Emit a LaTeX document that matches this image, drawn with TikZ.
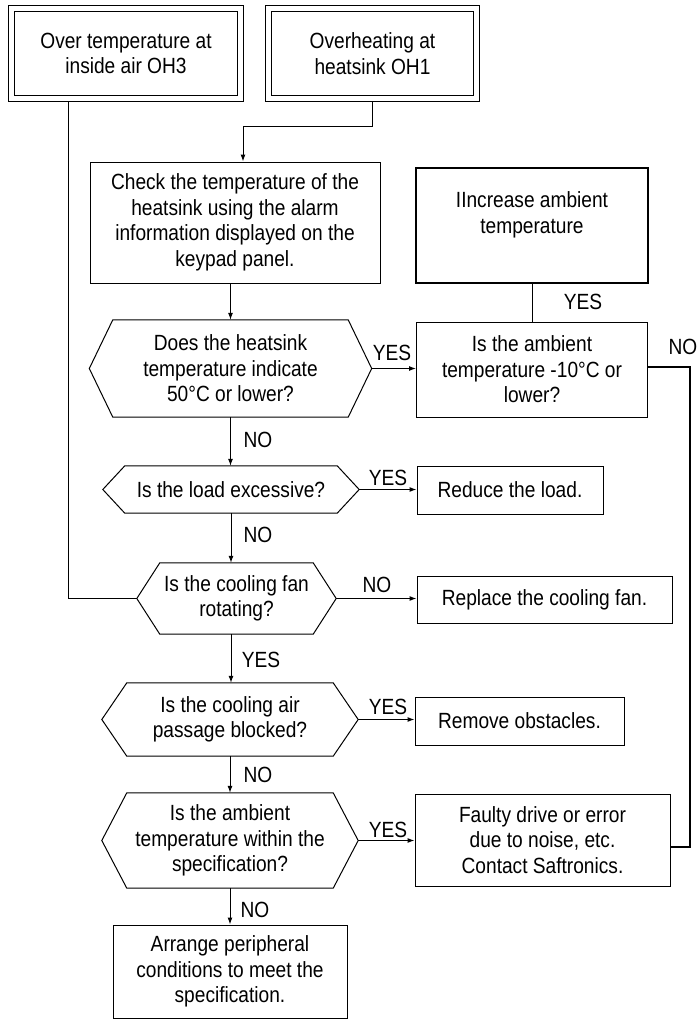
\documentclass[tikz,border=0pt]{standalone}
\usepackage{fontspec}
\setmainfont{Liberation Sans}[FakeStretch=0.87]
\usetikzlibrary{arrows.meta,calc}
\begin{document}
\begin{tikzpicture}[x=1pt,y=-1pt,
  every node/.style={font=\fontsize{22}{25.5}\selectfont},
  box/.style={draw, line width=1pt, align=center, inner sep=0pt},
  thickbox/.style={draw, line width=2pt, align=center, inner sep=0pt},
  dbl/.style={draw, line width=1pt, double, double distance=5pt, align=center, inner sep=0pt, outer sep=3.5pt},
  hexn/.style={align=center, inner sep=0pt},
  lab/.style={inner sep=0pt},
  conn/.style={line width=1pt},
  arr/.style={conn, -{Latex[length=7pt,width=5pt]}},
  heavy/.style={line width=2pt}
]
\useasboundingbox (0,0) rectangle (697,1021);

% top double boxes
\node[dbl, minimum width=229pt, minimum height=90pt] (oh3) at (126,53.5) {Over temperature at\\inside air OH3};
\node[dbl, minimum width=208pt, minimum height=90pt] (oh1) at (372.5,53.5) {Overheating at\\heatsink OH1};

% check box
\node[box, minimum width=290pt, minimum height=121pt] (chk) at (235,222.5) {Check the temperature of the\\heatsink using the alarm\\information displayed on the\\keypad panel.};

% hexagons
\node[hexn, minimum width=235pt, minimum height=97pt] (h1) at (230.5,368.5) {Does the heatsink\\temperature indicate\\50°C or lower?};
\coordinate (h1W) at ($(h1.west)+(-23.5,0)$);
\coordinate (h1E) at ($(h1.east)+(23.5,0)$);
\draw[conn] (h1.north west) -- (h1.north east) -- (h1E) -- (h1.south east) -- (h1.south west) -- (h1W) -- cycle;

\node[hexn, minimum width=212pt, minimum height=47pt] (h2) at (231,489.5) {Is the load excessive?};
\coordinate (h2W) at ($(h2.west)+(-22,0)$);
\coordinate (h2E) at ($(h2.east)+(22,0)$);
\draw[conn] (h2.north west) -- (h2.north east) -- (h2E) -- (h2.south east) -- (h2.south west) -- (h2W) -- cycle;

\node[hexn, minimum width=153pt, minimum height=71pt] (h3) at (236.5,598.5) {Is the cooling fan\\rotating?};
\coordinate (h3W) at ($(h3.west)+(-23,0)$);
\coordinate (h3E) at ($(h3.east)+(23,0)$);
\draw[conn] (h3.north west) -- (h3.north east) -- (h3E) -- (h3.south east) -- (h3.south west) -- (h3W) -- cycle;

\node[hexn, minimum width=206pt, minimum height=73pt] (h4) at (230,719.5) {Is the cooling air\\passage blocked?};
\coordinate (h4W) at ($(h4.west)+(-25,0)$);
\coordinate (h4E) at ($(h4.east)+(25,0)$);
\draw[conn] (h4.north west) -- (h4.north east) -- (h4E) -- (h4.south east) -- (h4.south west) -- (h4W) -- cycle;

\node[hexn, minimum width=206pt, minimum height=95pt] (h5) at (230,840.5) {Is the ambient\\temperature within the\\specification?};
\coordinate (h5W) at ($(h5.west)+(-25,0)$);
\coordinate (h5E) at ($(h5.east)+(25,0)$);
\draw[conn] (h5.north west) -- (h5.north east) -- (h5E) -- (h5.south east) -- (h5.south west) -- (h5W) -- cycle;

% bottom box
\node[box, minimum width=234pt, minimum height=93pt] (arr) at (230,971.5) {Arrange peripheral\\conditions to meet the\\specification.};

% right boxes
\node[thickbox, minimum width=232pt, minimum height=115pt] (inc) at (532,225.5) {IIncrease ambient\\temperature\\\mbox{}};
\node[box, minimum width=231pt, minimum height=95pt] (amb) at (532,369.5) {Is the ambient\\temperature -10°C or\\lower?};
\node[box, minimum width=186pt, minimum height=48pt] (red) at (510,490) {Reduce the load.};
\node[box, minimum width=255pt, minimum height=47pt] (rep) at (544.5,599.5) {Replace the cooling fan.};
\node[box, minimum width=209pt, minimum height=48pt] (rem) at (519.5,721) {Remove obstacles.};
\node[box, minimum width=255pt, minimum height=92pt] (fau) at (542.5,840) {Faulty drive or error\\due to noise, etc.\\Contact Saftronics.};

% connectors
\coordinate (j1) at (243,126);
\draw[arr] (oh1.south) |- (j1) -- (j1 |- chk.north);
\draw[arr] (chk.south -| h1.north) -- (h1.north);
\draw[arr] (h1.south) -- (h1.south |- h2.north);
\draw[arr] (h2.south) -- (h2.south |- h3.north);
\draw[arr] (h3.south -| h2.south) -- (h4.north -| h2.south);
\draw[arr] (h4.south) -- (h5.north);
\draw[arr] (h5.south) -- (arr.north);

\coordinate (d3) at (68,598.5);
\draw[conn] (oh3.south -| d3) -- (d3) -- (h3W);

\draw[arr] (h1E) -- (h1E -| amb.west);
\draw[arr] (h2E) -- (h2E -| red.west);
\draw[arr] (h3E) -- (h3E -| rep.west);
\draw[arr] (h4E) -- (h4E -| rem.west);
\draw[arr] (h5E) -- (h5E -| fau.west);

\draw[conn] (inc.south) -- (amb.north);

\coordinate (b1) at (690,847);
\coordinate (b2) at (690,367);
\draw[heavy] (fau.east |- b1) -- (b1) -- (b2) -- (b2 -| amb.east);

% labels
\node[lab] (y1) at (392,353) {YES};
\node[lab] (yi) at (583,302) {YES};
\node[lab] (na) at (683,347) {NO};
\node[lab] (n1) at (258,440) {NO};
\node[lab] (y2) at (388,478) {YES};
\node[lab] (n2) at (258,535) {NO};
\node[lab] (n3) at (377,585) {NO};
\node[lab] (y3) at (261,660) {YES};
\node[lab] (y4) at (388,707) {YES};
\node[lab] (n4) at (258,775) {NO};
\node[lab] (y5) at (388,830) {YES};
\node[lab] (n5) at (255,910) {NO};
\end{tikzpicture}
\end{document}
